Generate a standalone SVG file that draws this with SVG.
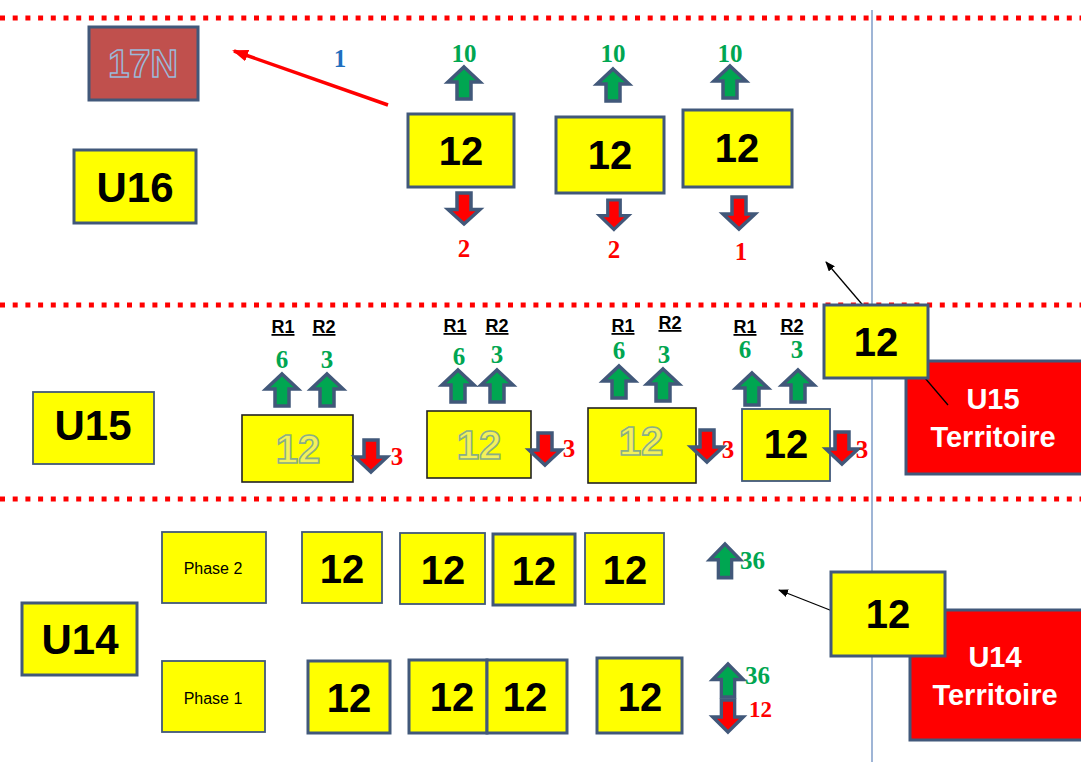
<svg xmlns="http://www.w3.org/2000/svg" width="1081" height="762" viewBox="0 0 1081 762">
<defs>
<style>
.box{fill:#ffff00;stroke:#41587a;stroke-width:3}
.boxt{fill:#ffff00;stroke:#41587a;stroke-width:1.8}
.boxk{fill:#ffff00;stroke:#222;stroke-width:1.6}
.red{fill:#ff0000;stroke:#41587a;stroke-width:3}
.big{font-family:"Liberation Sans",Arial,sans-serif;font-weight:bold;font-size:40px;fill:#000;text-anchor:middle}
.hol{font-family:"Liberation Sans",Arial,sans-serif;font-weight:bold;font-size:40px;fill:#f4f25a;stroke:#8aae86;stroke-width:1.6;text-anchor:middle}
.lab{font-family:"Liberation Sans",Arial,sans-serif;font-weight:bold;font-size:42px;fill:#000;text-anchor:middle}
.ter{font-family:"Liberation Sans",Arial,sans-serif;font-weight:bold;font-size:29px;fill:#fff;text-anchor:middle}
.ph{font-family:"Liberation Sans",Arial,sans-serif;font-size:16px;fill:#000;text-anchor:middle}
.r{font-family:"Liberation Sans",Arial,sans-serif;font-weight:bold;font-size:18px;fill:#000;text-anchor:middle;text-decoration:underline}
.g{font-family:"Liberation Serif","Times New Roman",serif;font-weight:bold;font-size:25px;fill:#00a651;text-anchor:middle}
.rd{font-family:"Liberation Serif","Times New Roman",serif;font-weight:bold;font-size:25px;fill:#ff0000;text-anchor:middle}
.bl{font-family:"Liberation Serif","Times New Roman",serif;font-weight:bold;font-size:25px;fill:#1f6fbf;text-anchor:middle}
.dot{stroke:#ff0000;stroke-width:5;stroke-dasharray:5 7.7;fill:none}
.up{fill:#00a651;stroke:#41587a;stroke-width:3.5;stroke-linejoin:miter}
.dn{fill:#ff0000;stroke:#41587a;stroke-width:3.5;stroke-linejoin:miter}
</style>
<path id="upA" d="M0,0 L16,15 L7,15 L7,32 L-7,32 L-7,15 L-16,15 Z"/>
<path id="dnA" d="M0,32 L16,17 L7,17 L7,0 L-7,0 L-7,17 L-16,17 Z"/>
<marker id="mk" markerWidth="10" markerHeight="8" refX="9" refY="4" orient="auto" markerUnits="userSpaceOnUse">
<path d="M0,0 L10,4 L0,8 Z" fill="#000"/>
</marker>
<marker id="mr" markerWidth="16" markerHeight="12" refX="14" refY="6" orient="auto" markerUnits="userSpaceOnUse">
<path d="M0,0 L16,6 L0,12 Z" fill="#ff0000"/>
</marker>
</defs>
<rect x="0" y="0" width="1081" height="762" fill="#fff"/>

<g id="separators">
<line class="dot" x1="0" y1="18" x2="1081" y2="18"/>
<line class="dot" x1="0" y1="305" x2="1081" y2="305"/>
<line class="dot" x1="0" y1="499" x2="1081" y2="499"/>
<line x1="872" y1="10" x2="872" y2="762" stroke="#7f9cc8" stroke-width="1.5"/>
</g>

<g id="u15-territoire">
<rect class="red" x="906" y="361" width="178" height="113"/>
<text class="ter" x="993" y="409">U15</text>
<text class="ter" x="993" y="447">Territoire</text>
</g>
<g id="u14-territoire">
<rect class="red" x="910" y="610" width="174" height="130"/>
<text class="ter" x="995" y="667">U14</text>
<text class="ter" x="995" y="705">Territoire</text>
</g>

<g id="connectors">
<line x1="388" y1="105" x2="234" y2="51" stroke="#ff0000" stroke-width="3.5" marker-end="url(#mr)"/>
<line x1="948" y1="405" x2="826" y2="262" stroke="#000" stroke-width="1.3" marker-end="url(#mk)"/>
<line x1="840" y1="614" x2="779" y2="590" stroke="#000" stroke-width="1.3" marker-end="url(#mk)"/>
</g>

<g id="n17N">
<rect x="89" y="27" width="109" height="73" fill="#c0504d" stroke="#41587a" stroke-width="3"/>
<text x="143" y="77" font-family="'Liberation Sans',Arial,sans-serif" font-size="38" font-weight="bold" fill="#c0504d" stroke="#9cb8d8" stroke-width="1.5" text-anchor="middle">17N</text>
</g>
<text class="bl" x="340" y="67">1</text>

<g id="u16"><rect class="box" x="74" y="150" width="122" height="73"/><text class="lab" x="135" y="202">U16</text></g>

<g id="top1"><rect class="box" x="408" y="114" width="106" height="73"/><text class="big" x="461" y="165">12</text></g>
<g id="top2"><rect class="box" x="556" y="117" width="108" height="76"/><text class="big" x="610" y="169">12</text></g>
<g id="top3"><rect class="box" x="683" y="110" width="109" height="77"/><text class="big" x="737" y="162">12</text></g>
<g id="top-arrows">
<use href="#upA" class="up" transform="translate(464,67)"/>
<use href="#upA" class="up" transform="translate(613,69)"/>
<use href="#upA" class="up" transform="translate(730,66)"/>
<use href="#dnA" class="dn" transform="translate(464,193) scale(1,0.97)"/>
<use href="#dnA" class="dn" transform="translate(614,200) scale(0.9,0.92)"/>
<use href="#dnA" class="dn" transform="translate(739,197)"/>
<text class="g" x="464" y="62">10</text>
<text class="g" x="613" y="62">10</text>
<text class="g" x="730" y="62">10</text>
<text class="rd" x="464" y="257">2</text>
<text class="rd" x="614" y="258">2</text>
<text class="rd" x="741" y="260">1</text>
</g>

<g id="u15"><rect class="boxt" x="33" y="392" width="121" height="72"/><text class="lab" x="93" y="440" font-size="40">U15</text></g>

<g id="r15a">
<rect class="boxk" x="242" y="415" width="111" height="67"/>
<text class="hol" x="298" y="463">12</text>
<text class="r" x="283" y="333">R1</text><text class="r" x="324" y="333">R2</text>
<text class="g" x="282" y="368">6</text><text class="g" x="327" y="368">3</text>
<use href="#upA" class="up" transform="translate(282,374)"/>
<use href="#upA" class="up" transform="translate(327,374)"/>
<use href="#dnA" class="dn" transform="translate(371,440)"/>
<text class="rd" x="397" y="465">3</text>
</g>
<g id="r15b">
<rect class="boxk" x="427" y="411" width="104" height="67"/>
<text class="hol" x="479" y="459">12</text>
<text class="r" x="455" y="332">R1</text><text class="r" x="497" y="332">R2</text>
<text class="g" x="459" y="365">6</text><text class="g" x="497" y="363">3</text>
<use href="#upA" class="up" transform="translate(458,370)"/>
<use href="#upA" class="up" transform="translate(497,370)"/>
<use href="#dnA" class="dn" transform="translate(545,433)"/>
<text class="rd" x="569" y="457">3</text>
</g>
<g id="r15c">
<rect class="boxk" x="588" y="408" width="108" height="75"/>
<text class="hol" x="641" y="455">12</text>
<text class="r" x="623" y="332">R1</text><text class="r" x="670" y="329">R2</text>
<text class="g" x="619" y="359">6</text><text class="g" x="664" y="363">3</text>
<use href="#upA" class="up" transform="translate(619,366)"/>
<use href="#upA" class="up" transform="translate(663,369)"/>
<use href="#dnA" class="dn" transform="translate(707,430)"/>
<text class="rd" x="728" y="458">3</text>
</g>
<g id="r15d">
<rect class="boxt" x="742" y="409" width="88" height="72"/>
<text class="big" x="786" y="458">12</text>
<text class="r" x="745" y="333">R1</text><text class="r" x="792" y="332">R2</text>
<text class="g" x="745" y="358">6</text><text class="g" x="797" y="358">3</text>
<use href="#upA" class="up" transform="translate(752,373)"/>
<use href="#upA" class="up" transform="translate(798,370)"/>
<use href="#dnA" class="dn" transform="translate(842,432)"/>
<text class="rd" x="862" y="458">3</text>
</g>

<g id="u15-12"><rect class="box" x="824" y="305" width="104" height="73"/><text class="big" x="876" y="356">12</text></g>

<g id="u14"><rect class="box" x="22" y="603" width="115" height="72"/><text class="lab" x="80" y="654">U14</text></g>
<g id="phase2"><rect class="boxt" x="162" y="532" width="104" height="71"/><text class="ph" x="213" y="574">Phase 2</text></g>
<g id="phase1"><rect class="boxt" x="162" y="661" width="103" height="71"/><text class="ph" x="213" y="704">Phase 1</text></g>

<g id="p2a"><rect class="boxt" x="302" y="532" width="80" height="71"/><text class="big" x="342" y="583">12</text></g>
<g id="p2b"><rect class="boxt" x="400" y="533" width="85" height="71"/><text class="big" x="443" y="584">12</text></g>
<g id="p2c"><rect class="box" x="493" y="534" width="82" height="71"/><text class="big" x="534" y="585">12</text></g>
<g id="p2d"><rect class="boxt" x="585" y="533" width="79" height="71"/><text class="big" x="625" y="584">12</text></g>

<g id="p1a"><rect class="box" x="308" y="661" width="82" height="72"/><text class="big" x="349" y="712">12</text></g>
<g id="p1b"><rect class="box" x="409" y="660" width="78" height="73"/><text class="big" x="452" y="711">12</text></g>
<g id="p1c"><rect class="box" x="487" y="660" width="80" height="73"/><text class="big" x="525" y="711">12</text></g>
<g id="p1d"><rect class="box" x="597" y="658" width="85" height="75"/><text class="big" x="640" y="711">12</text></g>

<g id="u14-flows">
<use href="#upA" class="up" transform="translate(725,544) scale(0.95,1.05)"/>
<text class="g" x="740" y="569" text-anchor="start" style="text-anchor:start">36</text>
<use href="#upA" class="up" transform="translate(728,664) scale(0.95,1.03)"/>
<use href="#dnA" class="dn" transform="translate(728,700) scale(0.95,1)"/>
<text class="g" x="745" y="684" style="text-anchor:start">36</text>
<text class="rd" x="749" y="717" style="text-anchor:start;font-size:23px">12</text>
</g>

<g id="u14-12"><rect class="box" x="831" y="572" width="114" height="84"/><text class="big" x="888" y="628">12</text></g>
</svg>
